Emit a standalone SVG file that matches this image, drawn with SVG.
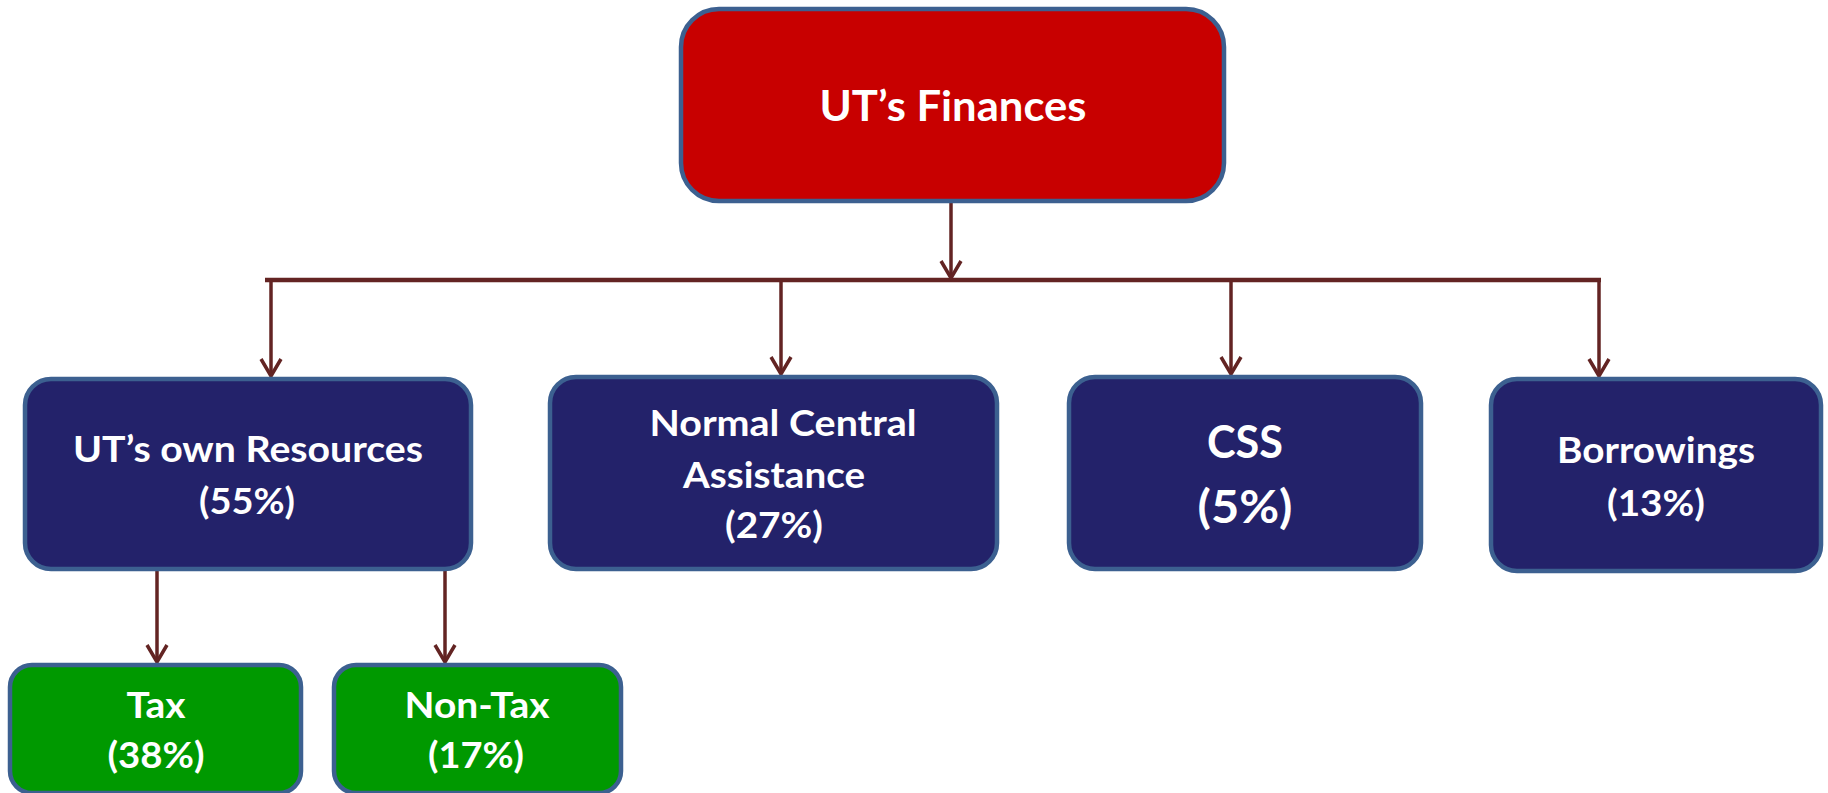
<svg xmlns="http://www.w3.org/2000/svg" width="1828" height="793" viewBox="0 0 1828 793">
<style>
.box{stroke:#3C6090;stroke-width:4.5}
.red{fill:#C80000}
.navy{fill:#23226A}
.green{fill:#009900}
text{font-family:Lato,"Open Sans","Liberation Sans",sans-serif;font-weight:700;fill:#FFFFFF;text-anchor:middle}
.t36{font-size:36px}
.t42{font-size:42px}
.t45{font-size:45px}
.t37{font-size:37px}
.conn{stroke:#632423;fill:none}
</style>
<defs>
<marker id="arr" viewBox="-22 -14 26 28" refX="0" refY="0" markerWidth="26" markerHeight="28" markerUnits="userSpaceOnUse" orient="auto" overflow="visible">
<path d="M-17,-10 L0,0 L-17,10" fill="none" stroke="#632423" stroke-width="3.5" stroke-linejoin="miter"/>
</marker>
</defs>
<g id="connectors">
<line class="conn" x1="265" y1="280" x2="1601" y2="280" stroke-width="4.5"/>
<line class="conn" x1="951" y1="203" x2="951" y2="278" stroke-width="3.5" marker-end="url(#arr)"/>
<line class="conn" x1="271" y1="280" x2="271" y2="376" stroke-width="3.5" marker-end="url(#arr)"/>
<line class="conn" x1="781" y1="280" x2="781" y2="374" stroke-width="3.5" marker-end="url(#arr)"/>
<line class="conn" x1="1231" y1="280" x2="1231" y2="374" stroke-width="3.5" marker-end="url(#arr)"/>
<line class="conn" x1="1599" y1="280" x2="1599" y2="376" stroke-width="3.5" marker-end="url(#arr)"/>
<line class="conn" x1="157" y1="571" x2="157" y2="662" stroke-width="3.5" marker-end="url(#arr)"/>
<line class="conn" x1="445" y1="571" x2="445" y2="662" stroke-width="3.5" marker-end="url(#arr)"/>
</g>
<g id="node-finances">
<rect class="box red" x="681" y="9" width="543" height="192" rx="38" ry="38"/>
<text class="t42" x="953" y="121" textLength="267" lengthAdjust="spacingAndGlyphs">UT’s Finances</text>
</g>
<g id="node-own-resources">
<rect class="box navy" x="25" y="379" width="446" height="190" rx="26" ry="26"/>
<text class="t36" x="248" y="462" textLength="350" lengthAdjust="spacingAndGlyphs">UT’s own Resources</text>
<text class="t36" x="247" y="514" textLength="96" lengthAdjust="spacingAndGlyphs">(55%)</text>
</g>
<g id="node-nca">
<rect class="box navy" x="550" y="377" width="447" height="192" rx="26" ry="26"/>
<text class="t36" x="783" y="436" textLength="267" lengthAdjust="spacingAndGlyphs">Normal Central</text>
<text class="t36" x="774" y="488" textLength="182" lengthAdjust="spacingAndGlyphs">Assistance</text>
<text class="t36" x="774" y="538" textLength="98" lengthAdjust="spacingAndGlyphs">(27%)</text>
</g>
<g id="node-css">
<rect class="box navy" x="1069" y="377" width="352" height="192" rx="26" ry="26"/>
<text class="t45" x="1245" y="458" textLength="76" lengthAdjust="spacingAndGlyphs">CSS</text>
<text class="t45" x="1245" y="523" textLength="95" lengthAdjust="spacingAndGlyphs">(5%)</text>
</g>
<g id="node-borrowings">
<rect class="box navy" x="1491" y="379" width="330" height="192" rx="26" ry="26"/>
<text class="t36" x="1656" y="463" textLength="198" lengthAdjust="spacingAndGlyphs">Borrowings</text>
<text class="t36" x="1656" y="516" textLength="98" lengthAdjust="spacingAndGlyphs">(13%)</text>
</g>
<g id="node-tax">
<rect class="box green" x="10" y="665" width="291" height="128" rx="22" ry="22"/>
<text class="t37" x="156" y="718" textLength="59" lengthAdjust="spacingAndGlyphs">Tax</text>
<text class="t37" x="156" y="768" textLength="97" lengthAdjust="spacingAndGlyphs">(38%)</text>
</g>
<g id="node-nontax">
<rect class="box green" x="334" y="665" width="287" height="128" rx="22" ry="22"/>
<text class="t37" x="477" y="718" textLength="145" lengthAdjust="spacingAndGlyphs">Non-Tax</text>
<text class="t37" x="476" y="768" textLength="96" lengthAdjust="spacingAndGlyphs">(17%)</text>
</g>
</svg>
